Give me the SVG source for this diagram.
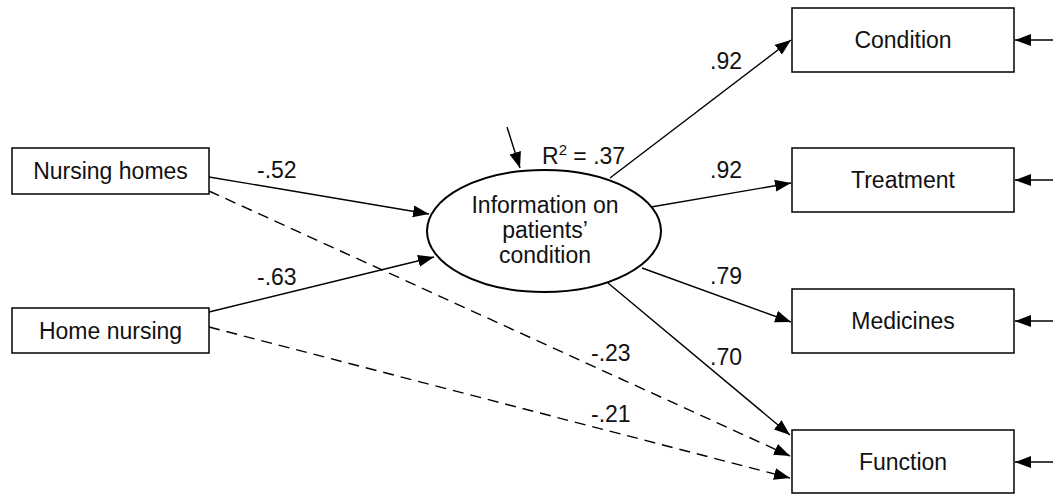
<svg xmlns="http://www.w3.org/2000/svg" width="1053" height="497" viewBox="0 0 1053 497">
<style>
.box{fill:#fff;stroke:#000;stroke-width:1.5}
.ell{fill:#fff;stroke:#000;stroke-width:2}
.t{font-family:"Liberation Sans",Arial,Helvetica,sans-serif;font-size:23px;fill:#111}
.c{text-anchor:middle}
.e{fill:none;stroke:#000;stroke-width:1.4;marker-end:url(#ah)}
.d{stroke-dasharray:11,7}
</style>
<defs>
<marker id="ah" markerUnits="userSpaceOnUse" markerWidth="17" markerHeight="13" refX="16" refY="6" orient="auto">
<path d="M0,0 L16,6 L0,12 z" fill="#000"/>
</marker>
</defs>
<rect width="1053" height="497" fill="#fff"/>
<g id="connectors">
<line class="e" x1="209" y1="177" x2="429" y2="214"/>
<line class="e" x1="209" y1="312" x2="434" y2="257"/>
<line class="e d" x1="209" y1="191" x2="790" y2="456"/>
<line class="e d" x1="209" y1="327" x2="790" y2="478"/>
<line class="e" x1="610" y1="178" x2="791" y2="40"/>
<line class="e" x1="651" y1="207" x2="791" y2="183"/>
<line class="e" x1="642" y1="268" x2="791" y2="322"/>
<line class="e" x1="608" y1="283" x2="790" y2="435"/>
<line class="e" x1="507" y1="127" x2="520" y2="168"/>
<line class="e" x1="1053" y1="40" x2="1015" y2="40"/>
<line class="e" x1="1053" y1="180" x2="1015" y2="180"/>
<line class="e" x1="1053" y1="321" x2="1015" y2="321"/>
<line class="e" x1="1053" y1="462" x2="1015" y2="462"/>
</g>
<g id="labels">
<text class="t" x="257" y="178">-.52</text>
<text class="t" x="257" y="285">-.63</text>
<text class="t" x="591" y="361">-.23</text>
<text class="t" x="591" y="422">-.21</text>
<text class="t" x="710" y="69">.92</text>
<text class="t" x="710" y="178">.92</text>
<text class="t" x="710" y="284">.79</text>
<text class="t" x="710" y="365">.70</text>
<text class="t" x="542" y="164">R<tspan font-size="15" dy="-9">2</tspan><tspan dy="9"> = .37</tspan></text>
</g>
<g id="nursing-homes">
<rect class="box" x="12" y="148" width="197" height="46"/>
<text class="t c" x="110.5" y="179">Nursing homes</text>
</g>
<g id="home-nursing">
<rect class="box" x="12" y="308" width="197" height="45"/>
<text class="t c" x="110.5" y="339">Home nursing</text>
</g>
<g id="information">
<ellipse class="ell" cx="544" cy="231" rx="117" ry="61"/>
<text class="t c" x="545" y="213">Information on</text>
<text class="t c" x="545" y="238">patients’</text>
<text class="t c" x="545" y="263">condition</text>
</g>
<g id="condition">
<rect class="box" x="792" y="8" width="222" height="64"/>
<text class="t c" x="903" y="48">Condition</text>
</g>
<g id="treatment">
<rect class="box" x="792" y="148" width="222" height="64"/>
<text class="t c" x="903" y="188">Treatment</text>
</g>
<g id="medicines">
<rect class="box" x="792" y="289" width="222" height="64"/>
<text class="t c" x="903" y="329">Medicines</text>
</g>
<g id="function">
<rect class="box" x="792" y="430" width="222" height="63"/>
<text class="t c" x="903" y="470">Function</text>
</g>
</svg>
